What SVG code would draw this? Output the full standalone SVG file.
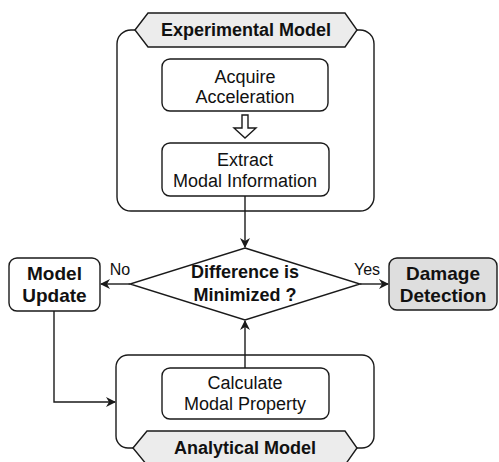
<svg xmlns="http://www.w3.org/2000/svg" width="499" height="462" viewBox="0 0 499 462">
<style>
.ln{fill:none;stroke:#1a1a1a;stroke-width:1.4}
.bx{fill:#fff;stroke:#1a1a1a;stroke-width:1.4}
.hx{fill:#ececec;stroke:#1a1a1a;stroke-width:1.4}
.t{font-family:"Liberation Sans",Arial,sans-serif;font-size:18px;fill:#111;text-anchor:middle}
.b{font-weight:bold}
.big{font-size:19px}
</style>
<defs>
<marker id="ah" viewBox="0 0 10 10" refX="9" refY="5" markerWidth="10" markerHeight="10" markerUnits="userSpaceOnUse" orient="auto">
<path d="M0,0 L10,5 L0,10 L3,5 Z" fill="#1a1a1a"/>
</marker>
</defs>
<rect width="499" height="462" fill="#fff"/>
<g id="experimental-model">
<rect class="bx" x="117" y="30" width="257" height="181" rx="14"/>
<polygon class="hx" points="135,30 148,13 345,13 357,30 345,47 148,47"/>
<text class="t b" x="246" y="36">Experimental Model</text>
</g>
<g id="acquire">
<rect class="bx" x="162" y="59" width="166" height="52" rx="8"/>
<text class="t" x="245" y="83">Acquire</text>
<text class="t" x="245" y="103">Acceleration</text>
</g>
<g id="hollow-arrow">
<polygon class="bx" points="242,115 248,115 248,128 256,128 245,138 234,128 242,128"/>
</g>
<g id="extract">
<rect class="bx" x="162" y="143" width="167" height="53" rx="8"/>
<text class="t" x="245" y="166">Extract</text>
<text class="t" x="245" y="187">Modal Information</text>
</g>
<g id="analytical-model">
<rect class="bx" x="116" y="355" width="258" height="93" rx="12"/>
<polygon class="hx" points="133,448 147,431 345,431 357,448 345,465 147,465"/>
<text class="t b" x="245" y="454">Analytical Model</text>
</g>
<g id="calculate">
<rect class="bx" x="162" y="368" width="167" height="51" rx="8"/>
<text class="t" x="245" y="389">Calculate</text>
<text class="t" x="245" y="410">Modal Property</text>
</g>
<g id="decision">
<polygon class="bx" points="245,248 360,284 245,320 130,284"/>
<text class="t b" x="245" y="278">Difference is</text>
<text class="t b" x="245" y="301">Minimized ?</text>
</g>
<g id="model-update">
<rect class="bx" x="9" y="258" width="91" height="53" rx="8"/>
<text class="t b big" x="54.5" y="280">Model</text>
<text class="t b big" x="54.5" y="302">Update</text>
</g>
<g id="damage-detection">
<rect x="389" y="258" width="108" height="52" rx="8" fill="#dedede" stroke="#1a1a1a" stroke-width="1.4"/>
<text class="t b big" x="443" y="280">Damage</text>
<text class="t b big" x="443" y="302">Detection</text>
</g>
<g id="connectors">
<path class="ln" d="M245,196 L245,247" marker-end="url(#ah)"/>
<path class="ln" d="M130,284 L101,284" marker-end="url(#ah)"/>
<path class="ln" d="M360,284 L388,284" marker-end="url(#ah)"/>
<path class="ln" d="M245,368 L245,321" marker-end="url(#ah)"/>
<path class="ln" d="M54,311 L54,402 L115,402" marker-end="url(#ah)"/>
<text class="t" x="120" y="275" style="font-size:16px">No</text>
<text class="t" x="367" y="275" style="font-size:16px">Yes</text>
</g>
</svg>
